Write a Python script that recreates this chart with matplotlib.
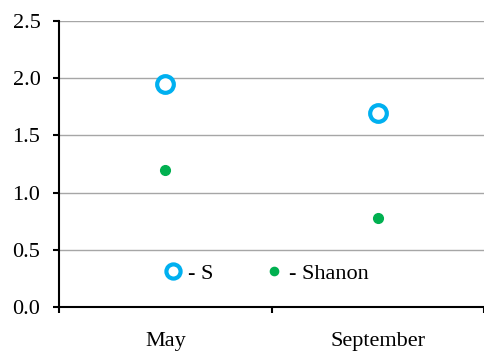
import matplotlib.pyplot as plt
import numpy as np

months = ['May', 'September']
s_values = [1.95, 1.70]
shanon_values = [1.20, 0.78]

plt.rcParams['font.family'] = 'Liberation Serif'

fig = plt.figure(figsize=(4.85, 3.51), dpi=100)
ax = fig.add_axes([0.122, 0.125, 0.876, 0.815])

x = np.arange(len(months))
ax.plot(x, s_values, linestyle='None', marker='o', markersize=12,
        markerfacecolor='white', markeredgecolor='#00B0F0', markeredgewidth=3,
        label='- S', zorder=3)
ax.plot(x, shanon_values, linestyle='None', marker='o', markersize=7,
        color='#00B050', label='- Shanon', zorder=3)

ax.set_xlim(-0.5, 1.5)
ax.set_ylim(0, 2.5)
yt = np.arange(0, 2.51, 0.5)
ax.set_yticks(yt)
ax.set_yticklabels([f'{v:.1f}' for v in yt], fontsize=16)
ax.yaxis.grid(True, color='#A6A6A6', linewidth=1)
ax.set_axisbelow(True)

ax.set_xticks(x)
ax.set_xticklabels(months, fontsize=16)
ax.set_xticks([-0.5, 0.5, 1.5], minor=True)
ax.tick_params(axis='x', which='major', length=0, pad=18)
ax.tick_params(axis='x', which='minor', length=4.5, width=1.5, direction='out')
ax.tick_params(axis='y', length=4.5, width=1.5, direction='out', pad=9)

for side in ['top', 'right']:
    ax.spines[side].set_visible(False)
for side in ['left', 'bottom']:
    ax.spines[side].set_linewidth(1.5)

ax.legend(loc='center', bbox_to_anchor=(0.485, 0.118), ncol=2, frameon=False,
          fontsize=16, handletextpad=0.2, columnspacing=2.2, handlelength=1.0,
          markerscale=0.85)

plt.savefig('out.png', dpi=100)
